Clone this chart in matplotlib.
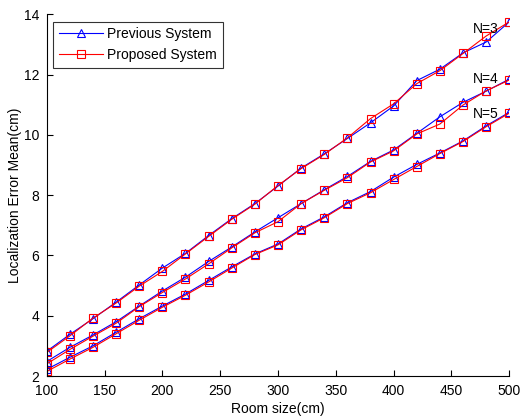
import matplotlib
matplotlib.use("Agg")
import matplotlib.pyplot as plt
import numpy as np

plt.rcParams['font.family'] = ['Liberation Sans', 'DejaVu Sans']

room_size = [100, 120, 140, 160, 180, 200, 220, 240, 260, 280, 300,
             320, 340, 360, 380, 400, 420, 440, 460, 480, 500]

n3_previous = [2.82, 3.38, 3.90, 4.45, 5.02, 5.58, 6.07, 6.66, 7.22, 7.72, 8.30,
               8.90, 9.37, 9.88, 10.40, 10.96, 11.80, 12.18, 12.72, 13.08, 13.75]
n3_proposed = [2.78, 3.33, 3.92, 4.42, 4.98, 5.47, 6.05, 6.63, 7.20, 7.70, 8.32,
               8.88, 9.35, 9.90, 10.54, 11.03, 11.70, 12.13, 12.70, 13.28, 13.75]

n4_previous = [2.48, 2.95, 3.36, 3.80, 4.32, 4.82, 5.28, 5.80, 6.28, 6.78, 7.25,
               7.72, 8.18, 8.62, 9.12, 9.50, 10.05, 10.60, 11.08, 11.45, 11.85]
n4_proposed = [2.40, 2.88, 3.32, 3.75, 4.30, 4.77, 5.22, 5.72, 6.25, 6.75, 7.12,
               7.72, 8.16, 8.58, 9.10, 9.47, 10.03, 10.36, 10.99, 11.46, 11.82]

n5_previous = [2.22, 2.62, 3.00, 3.45, 3.90, 4.32, 4.72, 5.17, 5.62, 6.05, 6.38,
               6.88, 7.28, 7.75, 8.12, 8.60, 9.02, 9.40, 9.80, 10.30, 10.75]
n5_proposed = [2.15, 2.56, 2.95, 3.40, 3.85, 4.28, 4.68, 5.12, 5.58, 6.03, 6.35,
               6.85, 7.25, 7.72, 8.08, 8.52, 8.95, 9.38, 9.78, 10.27, 10.72]

group_labels = ['N=3', 'N=4', 'N=5']
label_positions = [(480, 13.5), (480, 11.85), (480, 10.7)]

fig = plt.figure(figsize=(5.23, 4.17), dpi=100)
ax = fig.add_axes([0.0893, 0.0983, 0.8845, 0.8674])

pairs = [(n3_previous, n3_proposed), (n4_previous, n4_proposed), (n5_previous, n5_proposed)]
for i, (prev, prop) in enumerate(pairs):
    ax.plot(room_size, prev, color='#0000FF', lw=0.8, marker='^', ms=6,
            mfc='none', mec='#0000FF', mew=0.8,
            label='Previous System' if i == 0 else None)
    ax.plot(room_size, prop, color='#FF0000', lw=0.8, marker='s', ms=6,
            mfc='none', mec='#FF0000', mew=0.8,
            label='Proposed System' if i == 0 else None)

for lab, (lx, ly) in zip(group_labels, label_positions):
    ax.text(lx, ly, lab, fontsize=10, ha='center', va='center')

ax.set_xlim(100, 500)
ax.set_ylim(2, 14)
ax.set_xticks([100, 150, 200, 250, 300, 350, 400, 450, 500])
ax.set_yticks([2, 4, 6, 8, 10, 12, 14])
ax.tick_params(direction='in', length=4, width=0.8, labelsize=10, pad=5.5)
ax.spines['top'].set_visible(False)
ax.spines['right'].set_visible(False)
ax.set_xlabel('Room size(cm)', fontsize=10, labelpad=3)
ax.set_ylabel('Localization Error Mean(cm)', fontsize=10, labelpad=1)

leg = ax.legend(loc='upper left', bbox_to_anchor=(0.014, 0.98), borderaxespad=0,
                fontsize=10, frameon=True, fancybox=False, edgecolor='black',
                borderpad=0.4, handlelength=3.2, handletextpad=0.3, labelspacing=0.5)
leg.get_frame().set_linewidth(0.8)

fig.savefig('out.png', dpi=100)
